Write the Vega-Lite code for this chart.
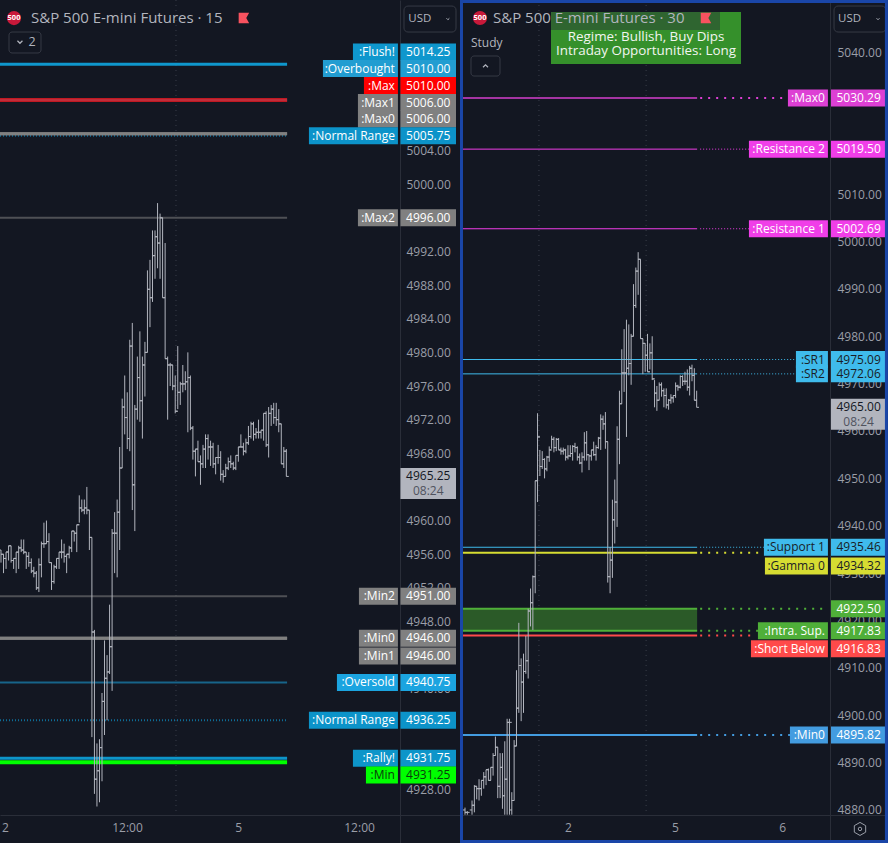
{"$schema":"https://vega.github.io/schema/vega-lite/v6.json","background":"#131722","padding":0,"spacing":0,"bounds":"flush","resolve":{"scale":{"color":"independent"}},
"config":{"view":{"stroke":null},"font":"Open Sans","axis":{"grid":false,"ticks":false,"title":null,"labelFont":"Open Sans","labelFontSize":12,"labelColor":"#9a9ea8","domainColor":"#2a2e39","domainWidth":1,"labelOverlap":false,"labelBound":false,"labelFlush":false},"text":{"font":"Open Sans","fontSize":12},"rule":{"strokeCap":"butt"}},
"datasets":{
"l15":[
{"b":0,"o":4956.5,"h":4956.5,"l":4955,"c":4956},{"b":1,"o":4956,"h":4956,"l":4953.75,"c":4955.5},{"b":2,"o":4955.5,"h":4956.25,"l":4954.25,"c":4956.25},{"b":3,"o":4956.25,"h":4957,"l":4955.25,"c":4957},{"b":4,"o":4957,"h":4957,"l":4955,"c":4955.25},{"b":5,"o":4955.25,"h":4955.5,"l":4954.25,"c":4955.5},{"b":6,"o":4955.5,"h":4956.25,"l":4953.75,"c":4956.25},{"b":7,"o":4956.25,"h":4957,"l":4954.25,"c":4956.75},{"b":8,"o":4956.75,"h":4957.75,"l":4956.25,"c":4956.5},{"b":9,"o":4956.5,"h":4957.75,"l":4956,"c":4956.25},
{"b":10,"o":4956.25,"h":4956.25,"l":4954.25,"c":4955.75},{"b":11,"o":4955.75,"h":4956.25,"l":4954.5,"c":4955},{"b":12,"o":4955,"h":4955.5,"l":4953.75,"c":4954},{"b":13,"o":4954,"h":4954.5,"l":4953.25,"c":4953.75},{"b":14,"o":4953.75,"h":4954,"l":4951.75,"c":4952},{"b":15,"o":4952,"h":4955.5,"l":4951.5,"c":4954.75},{"b":16,"o":4954.75,"h":4957.5,"l":4953.25,"c":4957.25},{"b":17,"o":4957.25,"h":4959.75,"l":4956.75,"c":4957.25},{"b":18,"o":4957.25,"h":4960,"l":4957.25,"c":4957.5},{"b":19,"o":4957.5,"h":4958.5,"l":4955,"c":4955},
{"b":20,"o":4955,"h":4955,"l":4951.75,"c":4952.75},{"b":21,"o":4952.75,"h":4954.75,"l":4952.5,"c":4954.5},{"b":22,"o":4954.5,"h":4955.5,"l":4954.25,"c":4955.5},{"b":23,"o":4955.5,"h":4956.25,"l":4954.25,"c":4956.25},{"b":24,"o":4956.25,"h":4957.75,"l":4955.5,"c":4956.25},{"b":25,"o":4956.25,"h":4957.25,"l":4955,"c":4955.75},{"b":26,"o":4955.75,"h":4956,"l":4953.75,"c":4956},{"b":27,"o":4956,"h":4957,"l":4955.5,"c":4956.75},{"b":28,"o":4956.75,"h":4958.75,"l":4956.25,"c":4958.75},{"b":29,"o":4958.75,"h":4958.75,"l":4957.5,"c":4958.5},
{"b":30,"o":4958.5,"h":4959.5,"l":4956.25,"c":4959.5},{"b":31,"o":4959.5,"h":4963,"l":4959.75,"c":4961.5},{"b":32,"o":4961.5,"h":4962.5,"l":4961,"c":4961.25},{"b":33,"o":4961.25,"h":4962.5,"l":4960.75,"c":4961.5},{"b":34,"o":4961.5,"h":4964,"l":4960.75,"c":4961.25},{"b":35,"o":4961.25,"h":4961.25,"l":4956.5,"c":4958},{"b":36,"o":4958,"h":4958,"l":4934.25,"c":4946.75},{"b":37,"o":4946.75,"h":4947,"l":4927.5,"c":4929.25},{"b":38,"o":4929.25,"h":4933.5,"l":4926,"c":4930.25},{"b":39,"o":4930.25,"h":4934,"l":4926.5,"c":4933},
{"b":40,"o":4933,"h":4939.5,"l":4929,"c":4938.5},{"b":41,"o":4938.5,"h":4945.75,"l":4934.5,"c":4941.25},{"b":42,"o":4941.25,"h":4944,"l":4936.25,"c":4942},{"b":43,"o":4942,"h":4950,"l":4941.75,"c":4945},{"b":44,"o":4945,"h":4959,"l":4939.75,"c":4958.5},{"b":45,"o":4958.5,"h":4961,"l":4953.75,"c":4958.5},{"b":46,"o":4958.5,"h":4962.5,"l":4953.25,"c":4961},{"b":47,"o":4961,"h":4968.75,"l":4956.5,"c":4966.25},{"b":48,"o":4966.25,"h":4974.5,"l":4966.25,"c":4973.5},{"b":49,"o":4973.5,"h":4977.25,"l":4970.25,"c":4972.25},
{"b":50,"o":4972.25,"h":4975.25,"l":4968.5,"c":4969.75},{"b":51,"o":4969.75,"h":4981.5,"l":4968.25,"c":4980.75},{"b":52,"o":4980.75,"h":4983.5,"l":4961.25,"c":4964.25},{"b":53,"o":4964.25,"h":4973.75,"l":4958.75,"c":4973.25},{"b":54,"o":4973.25,"h":4979.5,"l":4972,"c":4977},{"b":55,"o":4977,"h":4982.5,"l":4971.75,"c":4974.25},{"b":56,"o":4974.25,"h":4979.5,"l":4969.75,"c":4978.5},{"b":57,"o":4978.5,"h":4981.25,"l":4974.75,"c":4980},{"b":58,"o":4980,"h":4989.75,"l":4980,"c":4987.5},{"b":59,"o":4987.5,"h":4991,"l":4983,"c":4986.5},
{"b":60,"o":4986.5,"h":4994.5,"l":4986,"c":4991.5},{"b":61,"o":4991.5,"h":4994.5,"l":4988.75,"c":4993.75},{"b":62,"o":4993.75,"h":4997.75,"l":4990,"c":4993},{"b":63,"o":4993,"h":4996.5,"l":4988.75,"c":4996},{"b":64,"o":4996,"h":4996,"l":4986.5,"c":4986.5},{"b":65,"o":4986.5,"h":4993,"l":4979.25,"c":4979.25},{"b":66,"o":4979.25,"h":4979.5,"l":4972,"c":4978.5},{"b":67,"o":4978.5,"h":4978.75,"l":4976,"c":4978.5},{"b":68,"o":4978.5,"h":4978.5,"l":4975.5,"c":4976},{"b":69,"o":4976,"h":4977.25,"l":4972.75,"c":4973},
{"b":70,"o":4973,"h":4980.75,"l":4973.25,"c":4975.25},{"b":71,"o":4975.25,"h":4976.5,"l":4973.75,"c":4976.25},{"b":72,"o":4976.25,"h":4978.5,"l":4975.25,"c":4976.25},{"b":73,"o":4976.25,"h":4977.75,"l":4975.5,"c":4976.5},{"b":74,"o":4976.5,"h":4980,"l":4970.5,"c":4977},{"b":75,"o":4977,"h":4977.25,"l":4970.75,"c":4971},{"b":76,"o":4971,"h":4971.25,"l":4967.25,"c":4968.25},{"b":77,"o":4968.25,"h":4968.5,"l":4965.25,"c":4968.5},{"b":78,"o":4968.5,"h":4969.5,"l":4967,"c":4967},{"b":79,"o":4967,"h":4967.75,"l":4964.25,"c":4966.75},
{"b":80,"o":4966.75,"h":4969,"l":4966.25,"c":4968.5},{"b":81,"o":4968.5,"h":4970.25,"l":4966.25,"c":4969.75},{"b":82,"o":4969.75,"h":4970.25,"l":4967.25,"c":4968.75},{"b":83,"o":4968.75,"h":4969.5,"l":4966.5,"c":4968.75},{"b":84,"o":4968.75,"h":4969.25,"l":4966.25,"c":4966.75},{"b":85,"o":4966.75,"h":4967.5,"l":4965.5,"c":4967.5},{"b":86,"o":4967.5,"h":4969,"l":4966.75,"c":4967.5},{"b":87,"o":4967.5,"h":4968.25,"l":4964.75,"c":4965.5},{"b":88,"o":4965.5,"h":4966,"l":4964.5,"c":4965.25},{"b":89,"o":4965.25,"h":4966.75,"l":4965.25,"c":4966.25},
{"b":90,"o":4966.25,"h":4967.5,"l":4966,"c":4967},{"b":91,"o":4967,"h":4967.75,"l":4966.25,"c":4966.75},{"b":92,"o":4966.75,"h":4967,"l":4966,"c":4966.25},{"b":93,"o":4966.25,"h":4967.75,"l":4966,"c":4967.75},{"b":94,"o":4967.75,"h":4968.75,"l":4967,"c":4968.75},{"b":95,"o":4968.75,"h":4970.25,"l":4968.75,"c":4968.75},{"b":96,"o":4968.75,"h":4969.25,"l":4967.75,"c":4968.25},{"b":97,"o":4968.25,"h":4969.75,"l":4968,"c":4969.25},{"b":98,"o":4969.25,"h":4971.25,"l":4969,"c":4970},{"b":99,"o":4970,"h":4971.75,"l":4969.75,"c":4971.5},
{"b":100,"o":4971.5,"h":4971.75,"l":4969.5,"c":4970.25},{"b":101,"o":4970.25,"h":4971,"l":4969.75,"c":4970.5},{"b":102,"o":4970.5,"h":4972,"l":4969.75,"c":4970.5},{"b":103,"o":4970.5,"h":4970.75,"l":4969.75,"c":4970.75},{"b":104,"o":4970.75,"h":4972.75,"l":4969.5,"c":4972.75},{"b":105,"o":4972.75,"h":4973,"l":4968.75,"c":4969},{"b":106,"o":4969,"h":4973.5,"l":4967.5,"c":4972.75},{"b":107,"o":4972.75,"h":4973.75,"l":4971.25,"c":4973.25},{"b":108,"o":4973.25,"h":4974,"l":4971.5,"c":4972.25},{"b":109,"o":4972.25,"h":4974,"l":4971.25,"c":4972},
{"b":110,"o":4972,"h":4973.25,"l":4970.5,"c":4971.5},{"b":111,"o":4971.5,"h":4971.5,"l":4966.75,"c":4966.75},{"b":112,"o":4966.75,"h":4968.75,"l":4966.25,"c":4968.25},{"b":113,"o":4968.25,"h":4968.5,"l":4965.25,"c":4965.25}],
"r30":[
{"b":0,"o":4880,"h":4880.5,"l":4879,"c":4879.5},{"b":1,"o":4879.5,"h":4879.75,"l":4879,"c":4879.5},{"b":3,"o":4880,"h":4882,"l":4879,"c":4881},{"b":4,"o":4881,"h":4885.25,"l":4879.5,"c":4885},{"b":5,"o":4885,"h":4885,"l":4882.25,"c":4884.5},{"b":6,"o":4884.5,"h":4886.5,"l":4882,"c":4884.5},{"b":7,"o":4884.5,"h":4886.25,"l":4883,"c":4886.25},{"b":8,"o":4886.25,"h":4888,"l":4884.5,"c":4887},{"b":9,"o":4887,"h":4888.5,"l":4885.25,"c":4888.5},
{"b":10,"o":4888.5,"h":4888.75,"l":4886.25,"c":4886.25},{"b":11,"o":4886.25,"h":4889,"l":4886.25,"c":4889},{"b":12,"o":4889,"h":4892,"l":4887.25,"c":4891.5},{"b":13,"o":4891.5,"h":4895.5,"l":4891.5,"c":4893.25},{"b":14,"o":4893.25,"h":4893.25,"l":4882.5,"c":4885},{"b":15,"o":4885,"h":4892,"l":4882.5,"c":4889},{"b":16,"o":4889,"h":4892,"l":4880.25,"c":4883},{"b":17,"o":4883,"h":4894.5,"l":4879,"c":4886.5},{"b":18,"o":4886.5,"h":4899.25,"l":4879,"c":4898.5},{"b":19,"o":4898.5,"h":4899.25,"l":4879,"c":4898.5},
{"b":20,"o":4880,"h":4883.75,"l":4879,"c":4882},{"b":21,"o":4882,"h":4894.75,"l":4882,"c":4893.5},{"b":22,"o":4893.5,"h":4909.5,"l":4893.5,"c":4901.5},{"b":23,"o":4901.5,"h":4919.5,"l":4900.5,"c":4910.5},{"b":24,"o":4910.5,"h":4912,"l":4898.75,"c":4907},{"b":25,"o":4907,"h":4913,"l":4900.5,"c":4909.25},{"b":26,"o":4909.25,"h":4916.75,"l":4908.75,"c":4911.5},{"b":27,"o":4911.5,"h":4922.5,"l":4907.75,"c":4922},{"b":28,"o":4922,"h":4926.75,"l":4918.75,"c":4923.75},{"b":29,"o":4923.75,"h":4929.5,"l":4918,"c":4929.25},
{"b":30,"o":4929.25,"h":4949.5,"l":4925.75,"c":4949.5},{"b":31,"o":4949.5,"h":4963.75,"l":4945,"c":4958.75},{"b":32,"o":4958.75,"h":4956,"l":4950.5,"c":4952.5},{"b":33,"o":4952.5,"h":4955.75,"l":4952,"c":4954},{"b":34,"o":4954,"h":4954.25,"l":4950,"c":4952},{"b":35,"o":4952,"h":4954.75,"l":4951.5,"c":4954.5},{"b":36,"o":4954.5,"h":4956.75,"l":4953.5,"c":4956},{"b":37,"o":4956,"h":4959,"l":4956.25,"c":4958.25},{"b":38,"o":4958.25,"h":4958.75,"l":4955.5,"c":4956.5},{"b":39,"o":4956.5,"h":4958.5,"l":4955.75,"c":4958.25},
{"b":40,"o":4958.25,"h":4958.5,"l":4956,"c":4956},{"b":41,"o":4956,"h":4956.5,"l":4955,"c":4955.75},{"b":42,"o":4955.75,"h":4956.5,"l":4955,"c":4956},{"b":43,"o":4956,"h":4956.25,"l":4953.75,"c":4954.5},{"b":44,"o":4954.5,"h":4957,"l":4954,"c":4954.75},{"b":45,"o":4954.75,"h":4957,"l":4954.5,"c":4955.25},{"b":46,"o":4955.25,"h":4957,"l":4953.75,"c":4956.75},{"b":47,"o":4956.75,"h":4957.5,"l":4955.5,"c":4956.5},{"b":48,"o":4956.5,"h":4956.75,"l":4953.75,"c":4954.5},{"b":49,"o":4954.5,"h":4955.25,"l":4953,"c":4953.25},
{"b":50,"o":4953.25,"h":4955.5,"l":4951.25,"c":4954.5},{"b":51,"o":4954.5,"h":4959.75,"l":4953.75,"c":4957.5},{"b":52,"o":4957.5,"h":4960,"l":4953.75,"c":4955},{"b":53,"o":4955,"h":4955,"l":4951.75,"c":4954.75},{"b":54,"o":4954.75,"h":4956,"l":4953.75,"c":4956},{"b":55,"o":4956,"h":4957.75,"l":4954.75,"c":4955},{"b":56,"o":4955,"h":4957,"l":4953.75,"c":4956.5},{"b":57,"o":4956.5,"h":4958.75,"l":4956.25,"c":4958.5},{"b":58,"o":4958.5,"h":4963.5,"l":4956,"c":4962.5},{"b":59,"o":4962.5,"h":4963.25,"l":4960.25,"c":4961.5},
{"b":60,"o":4961.5,"h":4964,"l":4956.25,"c":4957.75},{"b":61,"o":4957.75,"h":4957.75,"l":4928,"c":4929.25},{"b":62,"o":4929.25,"h":4935.5,"l":4925.75,"c":4932.75},{"b":63,"o":4932.75,"h":4945.5,"l":4929,"c":4941.25},{"b":64,"o":4941.25,"h":4949.75,"l":4936.25,"c":4945},{"b":65,"o":4945,"h":4961,"l":4939.75,"c":4958.25},{"b":66,"o":4958.25,"h":4968.5,"l":4953,"c":4965.75},{"b":67,"o":4965.75,"h":4977.25,"l":4965.75,"c":4972.25},{"b":68,"o":4972.25,"h":4981.5,"l":4968.25,"c":4972.25},{"b":69,"o":4972.25,"h":4983.5,"l":4958.75,"c":4973.25},
{"b":70,"o":4973.25,"h":4982.5,"l":4971.75,"c":4974.25},{"b":71,"o":4974.25,"h":4980.5,"l":4969.75,"c":4980},{"b":72,"o":4980,"h":4991,"l":4980,"c":4986.5},{"b":73,"o":4986.5,"h":4994.5,"l":4986,"c":4993.75},{"b":74,"o":4993.75,"h":4997.75,"l":4988.75,"c":4996.25},{"b":75,"o":4996.25,"h":4996.25,"l":4979.5,"c":4979.5},{"b":76,"o":4979.5,"h":4979.5,"l":4972,"c":4978.5},{"b":77,"o":4978.5,"h":4978.5,"l":4972.5,"c":4976},{"b":78,"o":4976,"h":4980.5,"l":4972.5,"c":4972.5},{"b":79,"o":4972.5,"h":4978.5,"l":4973,"c":4976.5},
{"b":80,"o":4976.5,"h":4980,"l":4970.75,"c":4971},{"b":81,"o":4971,"h":4970.75,"l":4965,"c":4968},{"b":82,"o":4968,"h":4969.5,"l":4964.25,"c":4966.5},{"b":83,"o":4966.5,"h":4970.25,"l":4966.5,"c":4969.75},{"b":84,"o":4969.75,"h":4970.25,"l":4967.25,"c":4968.5},{"b":85,"o":4968.5,"h":4969,"l":4965,"c":4967.5},{"b":86,"o":4967.5,"h":4969,"l":4964.75,"c":4965.5},{"b":87,"o":4965.5,"h":4966.75,"l":4964.5,"c":4966.5},{"b":88,"o":4966.5,"h":4967.75,"l":4965.75,"c":4967},{"b":89,"o":4967,"h":4967.5,"l":4966,"c":4967.5},
{"b":90,"o":4967.5,"h":4970.25,"l":4967,"c":4969.5},{"b":91,"o":4969.5,"h":4969.75,"l":4968.5,"c":4969.25},{"b":92,"o":4969.25,"h":4971.75,"l":4969,"c":4971.5},{"b":93,"o":4971.5,"h":4971.75,"l":4969.5,"c":4970.5},{"b":94,"o":4970.5,"h":4972.5,"l":4969.75,"c":4970.5},{"b":95,"o":4970.5,"h":4973,"l":4968.5,"c":4969.25},{"b":96,"o":4969.25,"h":4973.75,"l":4967.5,"c":4973.25},{"b":97,"o":4973.25,"h":4974,"l":4970.5,"c":4971.75},{"b":98,"o":4971.75,"h":4973.25,"l":4966.5,"c":4966.5},{"b":99,"o":4966.5,"h":4968.5,"l":4965,"c":4965}],
"lLevels":[{"name":":Flush!","value":5014.25},{"name":":Overbought","value":5010},{"name":":Max","value":5010},{"name":":Max1","value":5006},{"name":":Max0","value":5006},{"name":":Normal Range","value":5005.75},{"name":":Max2","value":4996},{"name":":Min2","value":4951},{"name":":Min1","value":4946},{"name":":Min0","value":4946},{"name":":Oversold","value":4940.75},{"name":":Normal Range","value":4936.25},{"name":":Rally!","value":4931.75},{"name":":Min","value":4931.25}],
"rLevels":[{"name":":Max0","value":5030.29},{"name":":Resistance 2","value":5019.5},{"name":":Resistance 1","value":5002.69},{"name":":SR1","value":4975.09},{"name":":SR2","value":4972.06},{"name":":Support 1","value":4935.46},{"name":":Gamma 0","value":4934.32},{"name":" ","value":4922.5},{"name":":Intra. Sup.","value":4917.83},{"name":":Short Below","value":4916.83},{"name":":Min0","value":4895.82}]
},
"hconcat":[
{"width":460,"height":843,"layer":[
{"data":{"values":[{"b":69.3}]},"mark":{"type":"rule","clip":true,"stroke":"#3a3e4a","strokeWidth":1,"strokeDash":[1,4]},"encoding":{"x":{"field":"b","type":"quantitative","scale":{"domain":[-0.396,181.78],"nice":false,"zero":false},"axis":{"orient":"bottom","offset":-28,"values":[1.6,49.9,93.9,141.8],"labelExpr":"datum.value==1.6?'2':datum.value==93.9?'5':'12:00'","labelPadding":7,"labelColor":"#9a9ea8"}},"y":{"datum":5021.9,"scale":{"domain":[4921.66,5021.9],"nice":false,"zero":false},"axis":{"orient":"right","offset":-60,"values":[5004,5000,4996,4992,4988,4984,4980,4976,4972,4968,4964,4960,4956,4952,4948,4944,4940,4936,4932,4928],"format":".2f","labelAlign":"left","labelPadding":6}},"y2":{"datum":4925}}},
{"data":{"name":"lLevels"},"transform":[{"filter":"indexof([':Max2',':Min2',':Oversold'],datum.name)>=0"}],"mark":{"type":"rule","clip":true,"strokeWidth":2,"opacity":0.55},"encoding":{"x":{"datum":-0.396},"x2":{"datum":113.3},"y":{"field":"value","type":"quantitative"},"color":{"field":"name","legend":null,"scale":{"domain":[":Flush!",":Overbought",":Max",":Max1",":Max0",":Normal Range",":Max2",":Min2",":Min0",":Min1",":Oversold",":Rally!",":Min"],"range":["#0f97cd","#229dd1","#ff0000","#808080","#808080","#0c93c9","#808080","#808080","#808080","#808080","#1ba4e0","#0d95c9","#00ff00"]}}}},
{"data":{"name":"lLevels"},"transform":[{"filter":"datum.name==':Normal Range'"}],"mark":{"type":"rule","clip":true,"strokeWidth":2,"strokeDash":[1,2],"opacity":0.7},"encoding":{"x":{"datum":-0.396},"x2":{"datum":113.3},"y":{"field":"value","type":"quantitative"},"color":{"field":"name","legend":null}}},
{"data":{"name":"lLevels"},"transform":[{"filter":"indexof([':Flush!',':Overbought',':Max1',':Max0',':Min1',':Min0',':Rally!'],datum.name)>=0"}],"mark":{"type":"rule","clip":true,"strokeWidth":3},"encoding":{"x":{"datum":-0.396},"x2":{"datum":113.3},"y":{"field":"value","type":"quantitative"},"color":{"field":"name","legend":null}}},
{"data":{"name":"lLevels"},"transform":[{"filter":"datum.name==':Max'"}],"mark":{"type":"rule","clip":true,"strokeWidth":4,"opacity":0.72},"encoding":{"x":{"datum":-0.396},"x2":{"datum":113.3},"y":{"field":"value","type":"quantitative"},"color":{"field":"name","legend":null}}},
{"data":{"name":"lLevels"},"transform":[{"filter":"datum.name==':Min'"}],"mark":{"type":"rule","clip":true,"strokeWidth":4},"encoding":{"x":{"datum":-0.396},"x2":{"datum":113.3},"y":{"field":"value","type":"quantitative"},"color":{"field":"name","legend":null}}},
{"data":{"name":"l15"},"mark":{"type":"rule","clip":true,"stroke":"#b2b5be","strokeWidth":1},"encoding":{"x":{"field":"b","type":"quantitative"},"y":{"field":"l","type":"quantitative"},"y2":{"field":"h"}}},
{"data":{"name":"l15"},"mark":{"type":"tick","clip":true,"orient":"horizontal","color":"#b2b5be","size":2.5,"thickness":1,"xOffset":-1.2,"opacity":1},"encoding":{"x":{"field":"b","type":"quantitative"},"y":{"field":"o","type":"quantitative"}}},
{"data":{"name":"l15"},"mark":{"type":"tick","clip":true,"orient":"horizontal","color":"#b2b5be","size":2.5,"thickness":1,"xOffset":1.2,"opacity":1},"encoding":{"x":{"field":"b","type":"quantitative"},"y":{"field":"c","type":"quantitative"}}},
{"data":{"name":"lLevels"},"transform":[{"calculate":"datum.value+({':Flush!':1.46,':Overbought':3.75,':Max':1.73,':Max1':3.71,':Max0':1.75,':Min1':-2.1,':Min':-1.5}[datum.name]||0)","as":"tagY"},{"calculate":"157.2-{':Flush!':45,':Overbought':75,':Max':34,':Max1':40,':Max0':40,':Normal Range':89,':Max2':40,':Min2':39,':Min0':39,':Min1':39,':Oversold':61,':Rally!':45,':Min':32}[datum.name]/2.525","as":"tagStart"},{"calculate":"157.2","as":"tagEnd"}],"layer":[
{"mark":{"type":"rule","clip":true,"strokeWidth":17},"encoding":{"x":{"field":"tagStart","type":"quantitative"},"x2":{"field":"tagEnd"},"y":{"field":"tagY","type":"quantitative"},"color":{"field":"name","legend":null}}},
{"mark":{"type":"rule","clip":true,"strokeWidth":17},"encoding":{"x":{"datum":158.2},"x2":{"datum":180.2},"y":{"field":"tagY","type":"quantitative"},"color":{"field":"name","legend":null}}},
{"mark":{"type":"text","align":"right","baseline":"middle"},"encoding":{"x":{"datum":156},"y":{"field":"tagY","type":"quantitative"},"text":{"field":"name"},"color":{"condition":{"test":"datum.name==':Min'","value":"#0b3d0b"},"value":"#ffffff"}}},
{"mark":{"type":"text","align":"center","baseline":"middle"},"encoding":{"x":{"datum":169.2},"y":{"field":"tagY","type":"quantitative"},"text":{"field":"value","format":".2f"},"color":{"condition":{"test":"datum.name==':Min'","value":"#0b3d0b"},"value":"#ffffff"}}}]},
{"data":{"values":[{"price":4965.25,"timer":"08:24"}]},"layer":[
{"mark":{"type":"rule","clip":true,"strokeWidth":31,"stroke":"#b2b5be"},"encoding":{"x":{"datum":158.2},"x2":{"datum":180.2},"y":{"datum":4964.4}}},
{"mark":{"type":"text","align":"center","baseline":"middle","color":"#131722"},"encoding":{"x":{"datum":169.2},"y":{"field":"price","type":"quantitative"},"text":{"field":"price","format":".2f"}}},
{"mark":{"type":"text","align":"center","baseline":"middle","color":"#50535e"},"encoding":{"x":{"datum":169.2},"y":{"datum":4963.5},"text":{"field":"timer"}}}]},
{"data":{"values":[{"t":"S&P 500 E-mini Futures · 15"}]},"mark":{"type":"text","align":"left","baseline":"middle","fontSize":15,"color":"#b2b5be"},"encoding":{"x":{"datum":11.88},"y":{"datum":5019.75},"text":{"field":"t"}}},
{"data":{"values":[{"t":"500"}]},"layer":[
{"mark":{"type":"point","shape":"circle","filled":true,"size":200,"color":"#c8193a","opacity":1},"encoding":{"x":{"datum":5.15},"y":{"datum":5019.75}}},
{"mark":{"type":"text","align":"center","baseline":"middle","fontSize":7.5,"fontWeight":"bold","color":"#ffffff"},"encoding":{"x":{"datum":5.15},"y":{"datum":5019.75},"text":{"field":"t"}}}]},
{"data":{"values":[{"t":"flag"}]},"mark":{"type":"point","shape":"M-1,-1L1,-1L0.45,0L1,1L-1,1Z","filled":true,"size":110,"color":"#f7525f","opacity":1},"encoding":{"x":{"datum":96.2},"y":{"datum":5019.75}}},
{"data":{"values":[{"t":"2"}]},"layer":[
{"mark":{"type":"rect","fillOpacity":0,"stroke":"#363a45","strokeWidth":1,"cornerRadius":3},"encoding":{"x":{"datum":3.17},"x2":{"datum":15.84},"y":{"datum":5018.09},"y2":{"datum":5015.6}}},
{"mark":{"type":"point","shape":"M-1,-0.5L0,0.5L1,-0.5","filled":false,"size":25,"color":"#b2b5be","opacity":1,"strokeWidth":1.2},"encoding":{"x":{"datum":7.5},"y":{"datum":5016.9}}},
{"mark":{"type":"text","align":"center","baseline":"middle","fontSize":12.5,"color":"#b2b5be"},"encoding":{"x":{"datum":12.28},"y":{"datum":5016.9},"text":{"field":"t"}}}]},
{"data":{"values":[{"t":"USD"}]},"layer":[
{"mark":{"type":"rect","fillOpacity":0,"stroke":"#363a45","strokeWidth":1,"cornerRadius":4},"encoding":{"x":{"datum":159.6},"x2":{"datum":180.2},"y":{"datum":5021.18},"y2":{"datum":5018.09}}},
{"mark":{"type":"text","align":"left","baseline":"middle","fontSize":11.5,"color":"#b2b5be"},"encoding":{"x":{"datum":161.3},"y":{"datum":5019.64},"text":{"field":"t"}}},
{"mark":{"type":"point","shape":"M-1,-0.5L0,0.5L1,-0.5","filled":false,"size":8,"color":"#b2b5be","opacity":1,"strokeWidth":1},"encoding":{"x":{"datum":177},"y":{"datum":5019.64}}}]}
]},
{"width":428,"height":843,"layer":[
{"data":{"values":[{"b":31.6},{"b":77.4}]},"mark":{"type":"rule","clip":true,"stroke":"#3a3e4a","strokeWidth":1,"strokeDash":[1,4]},"encoding":{"x":{"field":"b","type":"quantitative","scale":{"domain":[-2.137,180.77],"nice":false,"zero":false},"axis":{"orient":"bottom","offset":-28,"values":[44,89.7,135.5],"labelExpr":"datum.value==44?'2':datum.value==89.7?'5':'6'","labelPadding":7}},"y":{"datum":5050.98,"scale":{"domain":[4873.03,5050.98],"nice":false,"zero":false},"axis":{"orient":"right","offset":-58,"values":[5040,5030,5020,5010,5000,4990,4980,4970,4960,4950,4940,4930,4920,4910,4900,4890,4880],"format":".2f","labelAlign":"left","labelPadding":7}},"y2":{"datum":4879}}},
{"data":{"values":[{"top":4922.5,"bottom":4917.83}]},"mark":{"type":"rect","fill":"#2b5a28"},"encoding":{"x":{"datum":-1.5},"x2":{"datum":99.2},"y":{"field":"top","type":"quantitative"},"y2":{"field":"bottom"}}},
{"data":{"name":"rLevels"},"transform":[{"filter":"indexof([':Resistance 2',':Resistance 1',':SR1',':SR2',':Support 1'],datum.name)>=0"}],"mark":{"type":"rule","clip":true,"strokeWidth":1},"encoding":{"x":{"datum":-1.5},"x2":{"datum":99.2},"y":{"field":"value","type":"quantitative"},"color":{"field":"name","legend":null,"scale":{"domain":[":Max0",":Resistance 2",":Resistance 1",":SR1",":SR2",":Support 1",":Gamma 0"," ",":Intra. Sup.",":Short Below",":Min0"],"range":["#dd40d4","#f03ee8","#f03ee8","#3fbbec","#3fbbec","#3fbbec","#d6dc32","#4faf39","#4faf39","#ff4a4a","#439ce0"]}}}},
{"data":{"name":"rLevels"},"transform":[{"filter":"indexof([':Gamma 0',' ',':Intra. Sup.',':Short Below',':Min0'],datum.name)>=0"}],"mark":{"type":"rule","clip":true,"strokeWidth":2},"encoding":{"x":{"datum":-1.5},"x2":{"datum":99.2},"y":{"field":"value","type":"quantitative"},"color":{"field":"name","legend":null}}},
{"data":{"name":"rLevels"},"transform":[{"filter":"datum.name==':Max0'"}],"mark":{"type":"rule","clip":true,"strokeWidth":2,"opacity":0.72},"encoding":{"x":{"datum":-1.5},"x2":{"datum":99.2},"y":{"field":"value","type":"quantitative"},"color":{"field":"name","legend":null}}},
{"data":{"name":"r30"},"mark":{"type":"rule","clip":true,"stroke":"#b2b5be","strokeWidth":1},"encoding":{"x":{"field":"b","type":"quantitative"},"y":{"field":"l","type":"quantitative"},"y2":{"field":"h"}}},
{"data":{"name":"r30"},"mark":{"type":"tick","clip":true,"orient":"horizontal","color":"#b2b5be","size":2.4,"thickness":1,"xOffset":-1.1,"opacity":1},"encoding":{"x":{"field":"b","type":"quantitative"},"y":{"field":"o","type":"quantitative"}}},
{"data":{"name":"r30"},"mark":{"type":"tick","clip":true,"orient":"horizontal","color":"#b2b5be","size":2.4,"thickness":1,"xOffset":1.1,"opacity":1},"encoding":{"x":{"field":"b","type":"quantitative"},"y":{"field":"c","type":"quantitative"}}},
{"data":{"name":"rLevels"},"transform":[{"calculate":"datum.value+({':Gamma 0':-2.83,':Short Below':-2.8}[datum.name]||0)","as":"tagY"},{"calculate":"155.1-{':Max0':40,':Resistance 2':79,':Resistance 1':79,':SR1':32,':SR2':32,':Support 1':64,':Gamma 0':63,' ':0,':Intra. Sup.':70,':Short Below':77,':Min0':38}[datum.name]/2.34","as":"tagStart"},{"calculate":"155.1","as":"tagEnd"},{"calculate":"100.5","as":"dotStart"}],"layer":[
{"transform":[{"filter":"indexof([':Max0',':Gamma 0',' ',':Intra. Sup.',':Short Below',':Min0'],datum.name)>=0"}],"mark":{"type":"rule","clip":true,"strokeWidth":2,"strokeDash":[2,6]},"encoding":{"x":{"field":"dotStart","type":"quantitative"},"x2":{"field":"tagStart"},"y":{"field":"value","type":"quantitative"},"color":{"field":"name","legend":null}}},
{"transform":[{"filter":"indexof([':Resistance 2',':Resistance 1',':SR1',':SR2',':Support 1'],datum.name)>=0"}],"mark":{"type":"rule","clip":true,"strokeWidth":1,"strokeDash":[1,2]},"encoding":{"x":{"field":"dotStart","type":"quantitative"},"x2":{"field":"tagStart"},"y":{"field":"value","type":"quantitative"},"color":{"field":"name","legend":null}}},
{"mark":{"type":"rule","clip":true,"strokeWidth":17},"encoding":{"x":{"field":"tagStart","type":"quantitative"},"x2":{"field":"tagEnd"},"y":{"field":"tagY","type":"quantitative"},"color":{"field":"name","legend":null}}},
{"mark":{"type":"rule","clip":true,"strokeWidth":17},"encoding":{"x":{"datum":156.4},"x2":{"datum":179.9},"y":{"field":"tagY","type":"quantitative"},"color":{"field":"name","legend":null}}},
{"mark":{"type":"text","align":"right","baseline":"middle"},"encoding":{"x":{"datum":153.8},"y":{"field":"tagY","type":"quantitative"},"text":{"field":"name"},"color":{"condition":{"test":"indexof([':SR1',':SR2',':Support 1',':Gamma 0'],datum.name)>=0","value":"#1a1d26"},"value":"#ffffff"}}},
{"mark":{"type":"text","align":"center","baseline":"middle"},"encoding":{"x":{"datum":168.2},"y":{"field":"tagY","type":"quantitative"},"text":{"field":"value","format":".2f"},"color":{"condition":{"test":"indexof([':SR1',':SR2',':Support 1',':Gamma 0'],datum.name)>=0","value":"#1a1d26"},"value":"#ffffff"}}}]},
{"data":{"values":[{"price":4965,"timer":"08:24"}]},"layer":[
{"mark":{"type":"rule","clip":true,"strokeWidth":31,"stroke":"#b2b5be"},"encoding":{"x":{"datum":156.4},"x2":{"datum":179.9},"y":{"datum":4963.52}}},
{"mark":{"type":"text","align":"center","baseline":"middle","color":"#131722"},"encoding":{"x":{"datum":168.2},"y":{"field":"price","type":"quantitative"},"text":{"field":"price","format":".2f"}}},
{"mark":{"type":"text","align":"center","baseline":"middle","color":"#50535e"},"encoding":{"x":{"datum":168.2},"y":{"datum":4962},"text":{"field":"timer"}}}]},
{"data":{"values":[{"a":"Regime: Bullish, Buy Dips","b":"Intraday Opportunities: Long"}]},"layer":[
{"mark":{"type":"rect","fill":"#35902b"},"encoding":{"x":{"datum":36.75},"x2":{"datum":117.95},"y":{"datum":5048.44},"y2":{"datum":5037.47}}},
{"mark":{"type":"rect","fill":"#2f6530"},"encoding":{"x":{"datum":36.75},"x2":{"datum":108.97},"y":{"datum":5048.44},"y2":{"datum":5044.64}}},
{"mark":{"type":"text","align":"center","baseline":"middle","fontSize":13.4,"color":"#f2f5f0"},"encoding":{"x":{"datum":77.35},"y":{"datum":5043.17},"text":{"field":"a"}}},
{"mark":{"type":"text","align":"center","baseline":"middle","fontSize":13.4,"color":"#f2f5f0"},"encoding":{"x":{"datum":77.35},"y":{"datum":5040.21},"text":{"field":"b"}}}]},
{"data":{"values":[{"t":"S&P 500 E-mini Futures · 30"}]},"mark":{"type":"text","align":"left","baseline":"middle","fontSize":15,"color":"#b2b5be"},"encoding":{"x":{"datum":11.97},"y":{"datum":5047.18},"text":{"field":"t"}}},
{"data":{"values":[{"t":"500"}]},"layer":[
{"mark":{"type":"point","shape":"circle","filled":true,"size":200,"color":"#c8193a","opacity":1},"encoding":{"x":{"datum":6.41},"y":{"datum":5047.18}}},
{"mark":{"type":"text","align":"center","baseline":"middle","fontSize":7.5,"fontWeight":"bold","color":"#ffffff"},"encoding":{"x":{"datum":6.41},"y":{"datum":5047.18},"text":{"field":"t"}}}]},
{"data":{"values":[{"t":"flag"}]},"mark":{"type":"point","shape":"M-1,-1L1,-1L0.45,0L1,1L-1,1Z","filled":true,"size":110,"color":"#f7525f","opacity":1},"encoding":{"x":{"datum":103},"y":{"datum":5047.18}}},
{"data":{"values":[{"t":"Study"}]},"layer":[
{"mark":{"type":"text","align":"left","baseline":"middle","fontSize":12,"color":"#b2b5be"},"encoding":{"x":{"datum":2.56},"y":{"datum":5041.9},"text":{"field":"t"}}},
{"mark":{"type":"rect","fillOpacity":0,"stroke":"#363a45","strokeWidth":1,"cornerRadius":3},"encoding":{"x":{"datum":2.56},"x2":{"datum":14.96},"y":{"datum":5039.16},"y2":{"datum":5034.93}}},
{"mark":{"type":"point","shape":"M-1,0.5L0,-0.5L1,0.5","filled":false,"size":25,"color":"#b2b5be","opacity":1,"strokeWidth":1.2},"encoding":{"x":{"datum":8.76},"y":{"datum":5037.04}}}]},
{"data":{"values":[{"t":"USD"}]},"layer":[
{"mark":{"type":"rect","fillOpacity":0,"stroke":"#363a45","strokeWidth":1,"cornerRadius":4},"encoding":{"x":{"datum":157.7},"x2":{"datum":179.9},"y":{"datum":5049.71},"y2":{"datum":5044.22}}},
{"mark":{"type":"text","align":"left","baseline":"middle","fontSize":11.5,"color":"#b2b5be"},"encoding":{"x":{"datum":159.4},"y":{"datum":5046.97},"text":{"field":"t"}}},
{"mark":{"type":"point","shape":"M-1,-0.5L0,0.5L1,-0.5","filled":false,"size":8,"color":"#b2b5be","opacity":1,"strokeWidth":1},"encoding":{"x":{"datum":176.5},"y":{"datum":5046.97}}}]},
{"data":{"values":[{"t":"settings"}]},"layer":[
{"mark":{"type":"point","shape":"M-0.87,-0.5L0,-1L0.87,-0.5L0.87,0.5L0,1L-0.87,0.5Z","filled":false,"size":170,"color":"#9a9ea8","opacity":1,"strokeWidth":1},"encoding":{"x":{"datum":168.8},"y":{"datum":4876}}},
{"mark":{"type":"point","shape":"circle","filled":false,"size":12,"color":"#9a9ea8","opacity":1,"strokeWidth":1},"encoding":{"x":{"datum":168.8},"y":{"datum":4876}}}]},
{"data":{"values":[{"t":"active pane"}]},"mark":{"type":"rect","clip":true,"fillOpacity":0,"stroke":"#1a46a8","strokeWidth":3},"encoding":{"x":{"datum":-1.5},"x2":{"datum":180.1},"y":{"datum":5050.66},"y2":{"datum":4873.35}}}
]}
]}
